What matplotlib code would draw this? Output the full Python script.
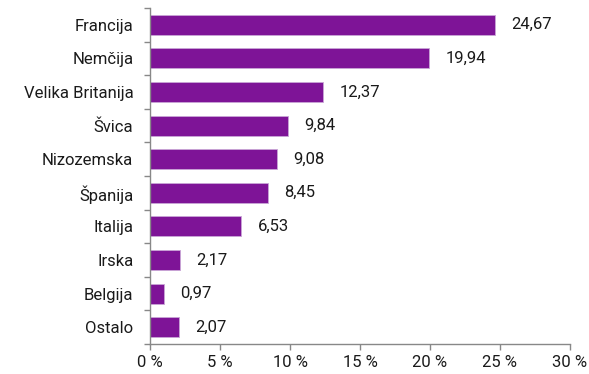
import matplotlib.pyplot as plt
import numpy as np

countries = ['Francija', 'Nemčija', 'Velika Britanija', 'Švica', 'Nizozemska',
             'Španija', 'Italija', 'Irska', 'Belgija', 'Ostalo']
shares = [24.67, 19.94, 12.37, 9.84, 9.08, 8.45, 6.53, 2.17, 0.97, 2.07]
xticks = [0, 5, 10, 15, 20, 25, 30]

plt.rcParams['font.family'] = ['Roboto', 'DejaVu Sans']

fig = plt.figure(figsize=(5.89, 3.74), dpi=100)
ax = fig.add_axes([0.2547, 0.0802, 0.713, 0.8984])

y = np.arange(len(countries))
ax.barh(y, shares, height=0.6, color='#7E1497', edgecolor='#C9A6D6', linewidth=0.6)
for yi, v in zip(y, shares):
    ax.text(v + 1.15, yi, f'{v:.2f}'.replace('.', ','), va='center', ha='left',
            fontsize=12, color='#1a1a1a')

ax.set_ylim(len(countries) - 0.5, -0.5)
ax.set_xlim(0, 30)
ax.set_yticks(y)
ax.set_yticklabels(countries, fontsize=12, color='#1a1a1a')
ax.set_yticks(np.arange(-0.5, len(countries), 1), minor=True)
ax.tick_params(axis='y', which='major', length=0, pad=12)
ax.tick_params(axis='y', which='minor', length=4, color='#888888', width=1)
ax.set_xticks(xticks)
ax.set_xticklabels([f'{t} %' for t in xticks], fontsize=12, color='#1a1a1a')
ax.tick_params(axis='x', length=4, color='#888888', width=1, pad=4)

for s in ['top', 'right']:
    ax.spines[s].set_visible(False)
for s in ['left', 'bottom']:
    ax.spines[s].set_color('#888888')
    ax.spines[s].set_linewidth(1)

fig.savefig('out.png', dpi=100)
